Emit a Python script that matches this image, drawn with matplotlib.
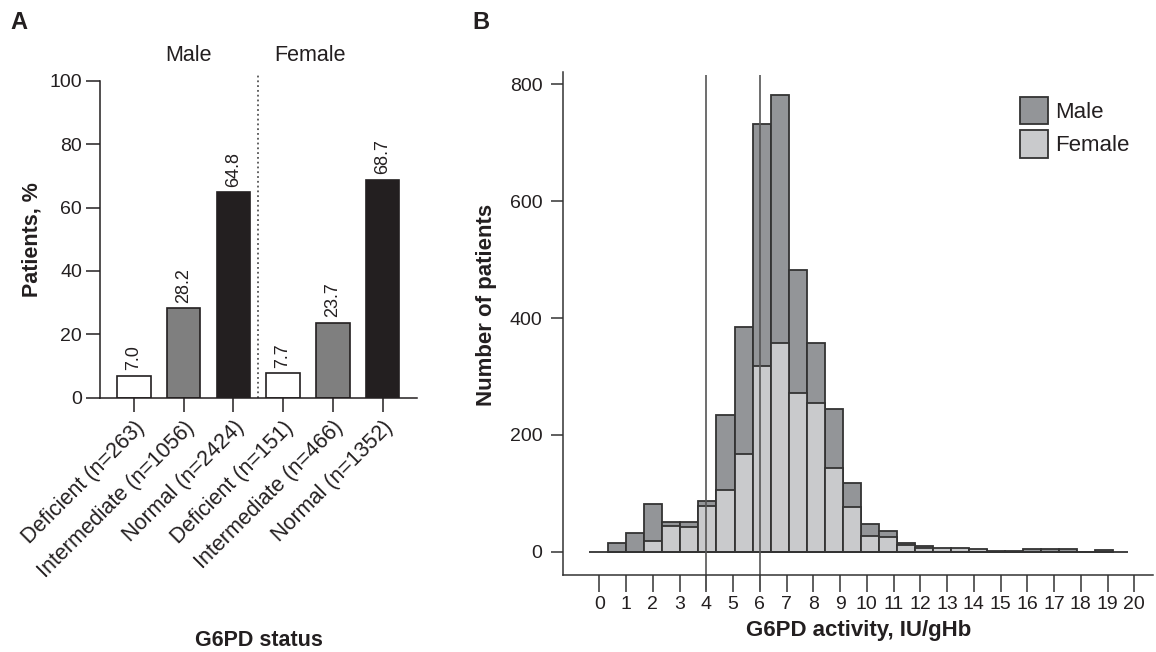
import numpy as np
import matplotlib.pyplot as plt
from matplotlib.patches import Patch

plt.rcParams['font.family'] = ['Liberation Sans', 'DejaVu Sans']

# --- panel A data ---
status_labels = ["Deficient (n=263)", "Intermediate (n=1056)", "Normal (n=2424)",
                 "Deficient (n=151)", "Intermediate (n=466)", "Normal (n=1352)"]
status_pct = [7.0, 28.2, 64.8, 7.7, 23.7, 68.7]
sex_groups = ["Male", "Female"]

# --- panel B data (0.5 IU/gHb bins, overlaid histograms) ---
bin_width = 0.5
male_counts = [15, 32, 81, 51, 50, 87, 234, 385, 732, 782, 483, 357, 244, 118,
               47, 35, 15, 10, 5, 5, 3, 1, 1, 4, 4, 4, 0, 3]
female_counts = [0, 0, 19, 44, 42, 79, 106, 167, 318, 357, 271, 254, 143, 76,
                 27, 25, 12, 7, 7, 7, 4, 0, 0, 0, 0, 0, 0, 0]
activity_ticks = list(range(0, 21))
cutoffs = [4, 6]

INK = "#231f20"
LINE = "#333333"
C_MALE = "#939598"
C_FEMALE = "#c9cacc"

fig = plt.figure(figsize=(11.56, 6.52), dpi=100)

# ---------------- panel A ----------------
axA = fig.add_axes([0.0865, 0.390, 0.2742, 0.4862])
x = np.arange(len(status_pct))
colors = ["white", "#7f7f7f", INK] * 2
axA.bar(x, status_pct, width=0.67, color=colors, edgecolor=INK, linewidth=1.2, zorder=2)
for xi, v in zip(x, status_pct):
    axA.text(xi, v + 1.8, f"{v:.1f}", rotation=90, ha="center", va="bottom",
             fontsize=13, color=INK)
axA.set_xlim(-0.68, 5.69)
axA.set_ylim(0, 100)
axA.set_yticks(range(0, 101, 20))
axA.set_xticks(x)
axA.set_xticklabels(status_labels, rotation=45, ha="right", rotation_mode="anchor",
                    fontsize=15.5, color=INK)
axA.tick_params(axis="y", labelsize=14, labelcolor=INK, length=10, width=1.1, color=INK, pad=3)
axA.tick_params(axis="x", length=10, width=1.1, color=INK, pad=4)
for s in ("top", "right"):
    axA.spines[s].set_visible(False)
for s in ("left", "bottom"):
    axA.spines[s].set_color(INK)
    axA.spines[s].set_linewidth(1.1)
axA.axvline(2.5, ymin=0, ymax=1.021, ls=":", lw=1.3, color="#555555", clip_on=False)
axA.text(1.1, 108, sex_groups[0], ha="center", va="center", fontsize=15.5, color=INK)
axA.text(3.55, 108, sex_groups[1], ha="center", va="center", fontsize=15.5, color=INK)
axA.set_ylabel("Patients, %", fontsize=15.5, fontweight="bold", color=INK, labelpad=5)
axA.set_xlabel("G6PD status", fontsize=15.5, fontweight="bold", color=INK, labelpad=35)

# ---------------- panel B ----------------
axB = fig.add_axes([0.4873, 0.1181, 0.5101, 0.7719])
edges = np.arange(len(male_counts)) * bin_width
axB.bar(edges, male_counts, width=bin_width, align="edge", color=C_MALE,
        edgecolor=LINE, linewidth=1.3, label="Male")
axB.bar(edges, female_counts, width=bin_width, align="edge", color=C_FEMALE,
        edgecolor=LINE, linewidth=1.3, label="Female")
axB.set_xlim(-1.248, 15.106)
axB.set_ylim(-39.9, 821.6)
axB.set_xticks([])
axB.set_yticks(range(0, 801, 200))
axB.tick_params(axis="y", labelsize=14, labelcolor=INK, length=9, width=1.1, color=LINE, pad=6)
for s in ("top", "right", "bottom"):
    axB.spines[s].set_visible(False)
axB.spines["left"].set_color(LINE)
axB.spines["left"].set_linewidth(1.1)
axB.set_ylabel("Number of patients", fontsize=16, fontweight="bold", color=INK)
axB.yaxis.set_label_coords(-0.1125, 0.536)

# tick axis for G6PD activity, drawn over the histogram
axT = axB.twiny()
axT.set_xlim(-1.346, 20.7)
axT.xaxis.set_ticks_position("bottom")
axT.xaxis.set_label_position("bottom")
axT.set_xticks(activity_ticks)
axT.tick_params(axis="x", labelsize=14, labelcolor=INK, length=12, width=1.1, color=LINE, pad=3)
for s in ("top", "right", "left"):
    axT.spines[s].set_visible(False)
axT.spines["bottom"].set_color(LINE)
axT.spines["bottom"].set_linewidth(1.1)
axT.hlines(0, -0.38, 19.76, color=LINE, lw=1.3)
axT.vlines(cutoffs, -0.03, 0.993, transform=axT.get_xaxis_transform(),
           color="#555555", lw=1.2, clip_on=False)
axT.set_xlabel("G6PD activity, IU/gHb", fontsize=16, fontweight="bold", color=INK, labelpad=5)

handles = [Patch(facecolor=C_MALE, edgecolor=LINE, lw=1.3),
           Patch(facecolor=C_FEMALE, edgecolor=LINE, lw=1.3)]
axT.legend(handles, sex_groups, loc="upper left", bbox_to_anchor=(0.7422, 0.9875),
           frameon=False, fontsize=16, handlelength=1.27, handleheight=1.53,
           handletextpad=0.3, labelspacing=0.26, borderpad=0.35, labelcolor=INK)

fig.text(0.009, 0.965, "A", fontsize=17, fontweight="bold", color=INK, va="center")
fig.text(0.409, 0.965, "B", fontsize=17, fontweight="bold", color=INK, va="center")

fig.savefig("out.png", dpi=100)
